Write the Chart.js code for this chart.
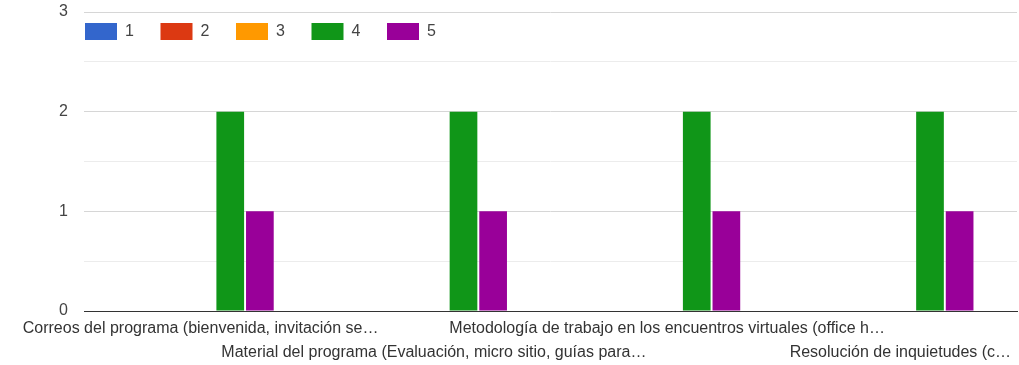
<!DOCTYPE html>
<html>
<head>
<meta charset="utf-8">
<script src="https://cdn.jsdelivr.net/npm/chart.js@4/dist/chart.umd.min.js"></script>
<style>
  html, body { margin: 0; padding: 0; background: #ffffff; }
  #wrap { width: 1019px; height: 365px; position: relative; }
</style>
</head>
<body>
<div id="wrap"><canvas id="chart"></canvas></div>
<script>
// Aspects of the programme that were rated
const categories = [
  'Correos del programa (bienvenida, invitación se…',
  'Material del programa (Evaluación, micro sitio, guías para…',
  'Metodología de trabajo en los encuentros virtuales (office h…',
  'Resolución de inquietudes (c…'
];

// Rating levels (legend entries)
const ratingLabels = ['1', '2', '3', '4', '5'];

// Number of answers for each rating level, per aspect
const rating1 = [0, 0, 0, 0];
const rating2 = [0, 0, 0, 0];
const rating3 = [0, 0, 0, 0];
const rating4 = [2, 2, 2, 2];
const rating5 = [1, 1, 1, 1];

// Y axis tick values
const yTicks = [0, 1, 2, 3];

const seriesColors = ['#3366cc', '#dc3912', '#ff9900', '#109618', '#990099'];
const seriesValues = [rating1, rating2, rating3, rating4, rating5];

const FONT = '"Liberation Sans", Arial, sans-serif';

// Legend drawn inside the plot area, over the top band
const insideLegend = {
  id: 'insideLegend',
  afterDraw(chart) {
    const ctx = chart.ctx;
    const area = chart.chartArea;
    const y = 31;
    let x = area.left + 1;
    ctx.save();
    ctx.font = '16px ' + FONT;
    ctx.textBaseline = 'middle';
    ctx.textAlign = 'left';
    chart.data.datasets.forEach((ds) => {
      ctx.fillStyle = ds.backgroundColor;
      ctx.fillRect(x, y - 8, 32, 17);
      ctx.fillStyle = '#444444';
      ctx.fillText(ds.label, x + 40, y + 1);
      x += 75.5;
    });
    ctx.restore();
  }
};

new Chart(document.getElementById('chart'), {
  type: 'bar',
  data: {
    labels: categories,
    datasets: ratingLabels.map((lab, i) => ({
      label: lab,
      data: seriesValues[i],
      backgroundColor: seriesColors[i],
      borderWidth: 0,
      categoryPercentage: 0.635,
      barPercentage: 0.935
    }))
  },
  options: {
    responsive: true,
    maintainAspectRatio: false,
    animation: false,
    layout: { padding: { top: 12, right: 2, left: 0, bottom: 0 } },
    plugins: {
      legend: { display: false },
      tooltip: { enabled: false }
    },
    scales: {
      x: {
        grid: { display: false },
        border: { display: true, color: '#333333', width: 1 },
        ticks: {
          autoSkip: false,
          maxRotation: 0,
          minRotation: 0,
          padding: -2,
          color: '#333333',
          font: { family: FONT, size: 16, lineHeight: 1.5 },
          callback: function (value, index) {
            const lab = categories[index];
            return index % 2 === 1 ? ['', lab] : lab;
          }
        },
        afterFit(scale) { scale.height = 54; }
      },
      y: {
        min: 0,
        max: yTicks[yTicks.length - 1],
        border: { display: false },
        grid: {
          drawTicks: false,
          lineWidth: 1,
          color(ctx) {
            const v = ctx.tick ? ctx.tick.value : 0;
            if (v === 0) return '#333333';
            return Number.isInteger(v) ? '#d6d6d6' : '#ececec';
          }
        },
        ticks: {
          stepSize: 0.5,
          padding: 16,
          color: '#444444',
          font: { family: FONT, size: 16 },
          callback: function (value) {
            return yTicks.includes(value) ? String(value) : '';
          }
        },
        afterFit(scale) {
          scale.width = 84;
          scale.paddingTop = 0;
          scale.paddingBottom = 0;
        }
      }
    }
  },
  plugins: [insideLegend]
});
</script>
</body>
</html>
